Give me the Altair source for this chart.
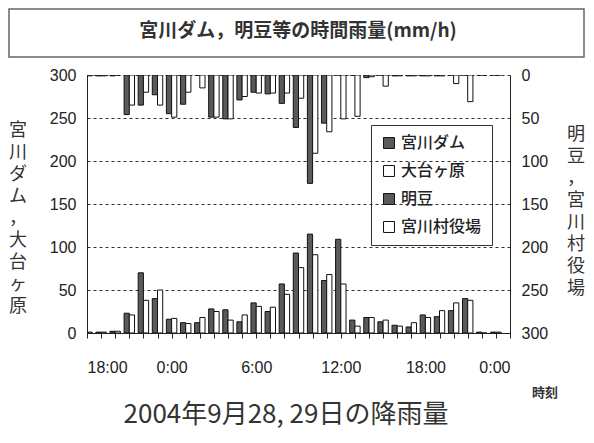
import json
import altair as alt
import pandas as pd

# ---- data (hourly rainfall, mm/h), hour index 0 = 18:00 on Sep 28 ----
hours = list(range(30))
series_names = ["宮川ダム", "大台ヶ原", "明豆", "宮川村役場"]
tick_labels = ["18:00", "0:00", "6:00", "12:00", "18:00", "0:00"]

miyagawa_dam = [1, 1, 2, 23, 70, 40, 16, 12, 12, 28, 27, 13, 35, 25, 57,
                93, 115, 61, 109, 15, 18, 13, 9, 7, 21, 19, 26, 40, 1, 1]
odaigahara = [1, 1, 2, 21, 38, 50, 17, 11, 18, 25, 15, 21, 31, 30, 45,
              76, 91, 68, 57, 8, 18, 15, 8, 12, 18, 26, 35, 38, 0, 1]
myozu = [1, 1, 1, 46, 35, 23, 45, 34, 0, 49, 51, 29, 20, 22, 33,
         61, 126, 56, 0, 0, 3, 0, 1, 1, 1, 1, 0, 0, 0, 0]
yakuba = [1, 1, 0, 35, 20, 35, 49, 20, 15, 49, 51, 25, 21, 21, 21,
          27, 91, 66, 51, 48, 2, 13, 1, 1, 1, 1, 10, 31, 0, 0]


def long_table(pairs):
    rows = []
    for name, vals, side in pairs:
        for h, v in zip(hours, vals):
            rows.append({"hour": h, "series": name, "value": v, "side": side})
    return pd.DataFrame(rows)


bottom_df = long_table([(series_names[0], miyagawa_dam, 0), (series_names[1], odaigahara, 1)])
top_df = long_table([(series_names[2], myozu, 0), (series_names[3], yakuba, 1)])

DARK = "#5a5a5a"
INK = "#222222"
NUM_FONT = "Liberation Sans Narrow, Liberation Sans, Arial, sans-serif"
JP_FONT = "Noto Sans CJK JP"
W, H = 423, 258

label_expr = ("datum.value % 6 == 0 ? " + json.dumps(tick_labels) +
              "[datum.value / 6] : ''")

x_scale = alt.Scale(domain=[0, 30], nice=False, zero=False)
x_axis = alt.Axis(values=list(range(31)), labelExpr=label_expr, title=None,
                  grid=False, tickSize=5, labelPadding=21, labelOverlap=False,
                  domainColor=INK, tickColor=INK, labelColor=INK,
                  labelFont=NUM_FONT, labelFontSize=16)

color_enc = alt.Color("series:N",
                      scale=alt.Scale(domain=series_names,
                                      range=[DARK, "white", DARK, "white"]),
                      legend=alt.Legend(title=None, orient="none", legendX=284, legendY=50,
                                        strokeColor="#333", padding=10,
                                        labelFont=JP_FONT, labelFontSize=16,
                                        labelFontWeight=500,
                                        labelColor=INK, symbolType="square",
                                        symbolSize=120, symbolStrokeColor="#111",
                                        symbolStrokeWidth=1, rowPadding=12,
                                        labelOffset=4))

calc_x0 = "datum.hour + (datum.side == 0 ? -0.37 : 0)"
calc_x1 = "datum.hour + (datum.side == 0 ? 0 : 0.37)"

bottom = alt.Chart(bottom_df).transform_calculate(
    x0=calc_x0, x1=calc_x1, base="0"
).mark_bar(stroke="#111", strokeWidth=1, clip=True).encode(
    x=alt.X("x0:Q", scale=x_scale, axis=x_axis),
    x2="x1:Q",
    y=alt.Y("value:Q",
            scale=alt.Scale(domain=[0, 300], nice=False),
            axis=alt.Axis(orient="left", values=[0, 50, 100, 150, 200, 250, 300],
                          title=None, grid=True, gridDash=[3, 3], gridColor="#333",
                          gridWidth=1.2, tickSize=0, labelPadding=11,
                          domainColor=INK, labelColor=INK,
                          labelFont=NUM_FONT, labelFontSize=16)),
    y2="base:Q",
    color=color_enc,
)

top = alt.Chart(top_df).transform_calculate(
    x0=calc_x0, x1=calc_x1, base="0"
).mark_bar(stroke="#111", strokeWidth=1, clip=True).encode(
    x=alt.X("x0:Q", scale=x_scale, axis=x_axis),
    x2="x1:Q",
    y=alt.Y("value:Q",
            scale=alt.Scale(domain=[0, 300], nice=False, reverse=True),
            axis=alt.Axis(orient="right", values=[0, 50, 100, 150, 200, 250, 300],
                          title=None, grid=False, tickSize=0, labelPadding=11,
                          domainColor=INK, labelColor=INK,
                          labelFont=NUM_FONT, labelFontSize=16)),
    y2="base:Q",
    color=alt.Color("series:N"),
)

one = pd.DataFrame({"k": [0]})

title_box = alt.Chart(one).mark_rect(fill="white", stroke="#666", strokeWidth=1.5).encode(
    x=alt.value(-78), x2=alt.value(497), y=alt.value(-66), y2=alt.value(-18))

title_text = alt.Chart(one).mark_text(
    font=JP_FONT, fontSize=19, fontWeight="bold", color="#333"
).encode(x=alt.value(211), y=alt.value(-44), text=alt.value("宮川ダム，明豆等の時間雨量(mm/h)"))

left_title = alt.Chart(one).mark_text(
    font=JP_FONT, fontSize=18, color="#333", lineHeight=22, baseline="middle"
).encode(x=alt.value(-69), y=alt.value(56),
         text=alt.value(list("宮川ダム，大台ヶ原")))

right_title = alt.Chart(one).mark_text(
    font=JP_FONT, fontSize=18, color="#333", lineHeight=22, baseline="middle"
).encode(x=alt.value(489), y=alt.value(60),
         text=alt.value(list("明豆，宮川村役場")))

time_label = alt.Chart(one).mark_text(
    font=JP_FONT, fontSize=13, fontWeight="bold", color="#333"
).encode(x=alt.value(458), y=alt.value(318), text=alt.value("時刻"))

caption = alt.Chart(one).mark_text(
    font="Liberation Sans Narrow, " + JP_FONT, fontSize=26, color="#333"
).encode(x=alt.value(199), y=alt.value(340), text=alt.value("2004年9月28, 29日の降雨量"))

chart = alt.layer(
    title_box, title_text, bottom, top, left_title, right_title, time_label, caption
).resolve_scale(
    y="independent"
).properties(
    width=W, height=H,
    autosize=alt.AutoSizeParams(type="none"),
    padding={"left": 79, "top": 67, "right": 76, "bottom": 98},
    background="white",
).configure_view(strokeWidth=0)

chart.save("out.html", embed_options={"renderer": "svg", "actions": False})
